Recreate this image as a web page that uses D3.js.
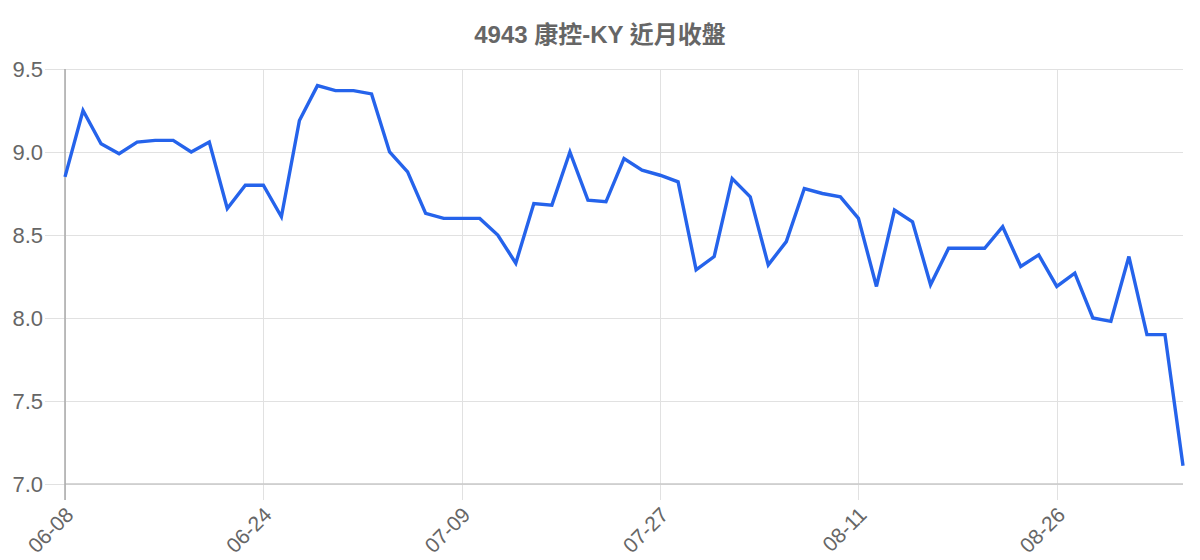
<html>
    <head>
        <style>
            body { margin: 0; background: #fff; }
            text { font-family: 'Liberation Sans', Arial, 'Noto Sans CJK TC', sans-serif; fill: #666; }
            .grid line { stroke: #e1e1e1; stroke-width: 1px; shape-rendering: crispEdges; }
        </style>
    </head>
    <body>
        <div id="chart"></div>
        <script src="https://d3js.org/d3.v7.min.js"></script>
        <script>
            const title = '4943 康控-KY 近月收盤';

            // trading days (2021)
            const dates = [
                '06-08', '06-09', '06-10', '06-11', '06-15', '06-16', '06-17', '06-18', '06-21', '06-22', '06-23',
                '06-24', '06-25', '06-28', '06-29', '06-30', '07-01', '07-02', '07-05', '07-06', '07-07', '07-08',
                '07-09', '07-12', '07-13', '07-14', '07-15', '07-19', '07-20', '07-21', '07-22', '07-23', '07-26',
                '07-27', '07-28', '07-29', '07-30', '08-02', '08-03', '08-04', '08-05', '08-06', '08-09', '08-10',
                '08-11', '08-12', '08-13', '08-16', '08-17', '08-18', '08-19', '08-20', '08-23', '08-24', '08-25',
                '08-26', '08-27', '08-30', '08-31', '09-01', '09-02', '09-03', '09-06'
            ];

            const closes = [
                8.85, 9.25, 9.05, 8.99, 9.06, 9.07, 9.07, 9.00, 9.06, 8.66, 8.80,
                8.80, 8.61, 9.19, 9.40, 9.37, 9.37, 9.35, 9.00, 8.88, 8.63, 8.60,
                8.60, 8.60, 8.50, 8.33, 8.69, 8.68, 9.00, 8.71, 8.70, 8.96, 8.89,
                8.86, 8.82, 8.29, 8.37, 8.84, 8.73, 8.32, 8.46, 8.78, 8.75, 8.73,
                8.60, 8.19, 8.65, 8.58, 8.20, 8.42, 8.42, 8.42, 8.55, 8.31, 8.38,
                8.19, 8.27, 8.00, 7.98, 8.37, 7.90, 7.90, 7.11
            ];

            const xTicks = ['06-08', '06-24', '07-09', '07-27', '08-11', '08-26'];
            const yTicks = [7.0, 7.5, 8.0, 8.5, 9.0, 9.5];

            const width = 1200, height = 560;
            const margin = { top: 69, right: 17, bottom: 76, left: 65 };

            const x = d3.scalePoint()
                .domain(dates)
                .range([margin.left, width - margin.right]);

            const y = d3.scaleLinear()
                .domain([7.0, 9.5])
                .range([height - margin.bottom, margin.top]);

            const svg = d3.select('#chart')
                .append('svg')
                .attr('width', width)
                .attr('height', height);

            svg.append('text')
                .attr('x', width / 2)
                .attr('y', 35)
                .attr('dy', '0.35em')
                .attr('text-anchor', 'middle')
                .style('font-size', '24px')
                .style('font-weight', 'bold')
                .text(title);

            // horizontal grid + y labels
            const yAxis = svg.append('g')
                .attr('class', 'grid')
                .attr('transform', `translate(${margin.left},0)`)
                .call(d3.axisLeft(y)
                    .tickValues(yTicks)
                    .tickFormat(d3.format('.1f'))
                    .tickSize(-(width - margin.left - margin.right))
                    .tickPadding(22));
            yAxis.select('.domain').remove();
            yAxis.selectAll('line').attr('x1', -20);
            yAxis.selectAll('text').style('font-size', '22px');

            // vertical grid + x labels
            const xAxis = svg.append('g')
                .attr('class', 'grid')
                .attr('transform', `translate(0,${height - margin.bottom})`)
                .call(d3.axisBottom(x)
                    .tickValues(xTicks)
                    .tickSize(0));
            xAxis.select('.domain').remove();
            xAxis.selectAll('line')
                .attr('y1', 16)
                .attr('y2', -(height - margin.top - margin.bottom));
            xAxis.selectAll('text')
                .attr('y', 0)
                .attr('dy', '0.35em')
                .attr('text-anchor', 'end')
                .attr('transform', 'translate(4,27) rotate(-45)')
                .style('font-size', '21px');

            // axis lines
            svg.append('line')
                .attr('x1', margin.left).attr('x2', width - margin.right)
                .attr('y1', y(7.0)).attr('y2', y(7.0))
                .attr('stroke', '#c8c8c8').attr('stroke-width', 1.5);
            svg.append('line')
                .attr('x1', margin.left).attr('x2', margin.left)
                .attr('y1', margin.top).attr('y2', y(7.0) + 16)
                .attr('stroke', '#a8a8a8').attr('stroke-width', 1.5);

            const line = d3.line()
                .x((d, i) => x(dates[i]))
                .y(d => y(d));

            svg.append('path')
                .datum(closes)
                .attr('fill', 'none')
                .attr('stroke', '#2563eb')
                .attr('stroke-width', 3.4)
                .attr('stroke-linejoin', 'miter')
                .attr('d', line);
        </script>
    </body>
</html>
